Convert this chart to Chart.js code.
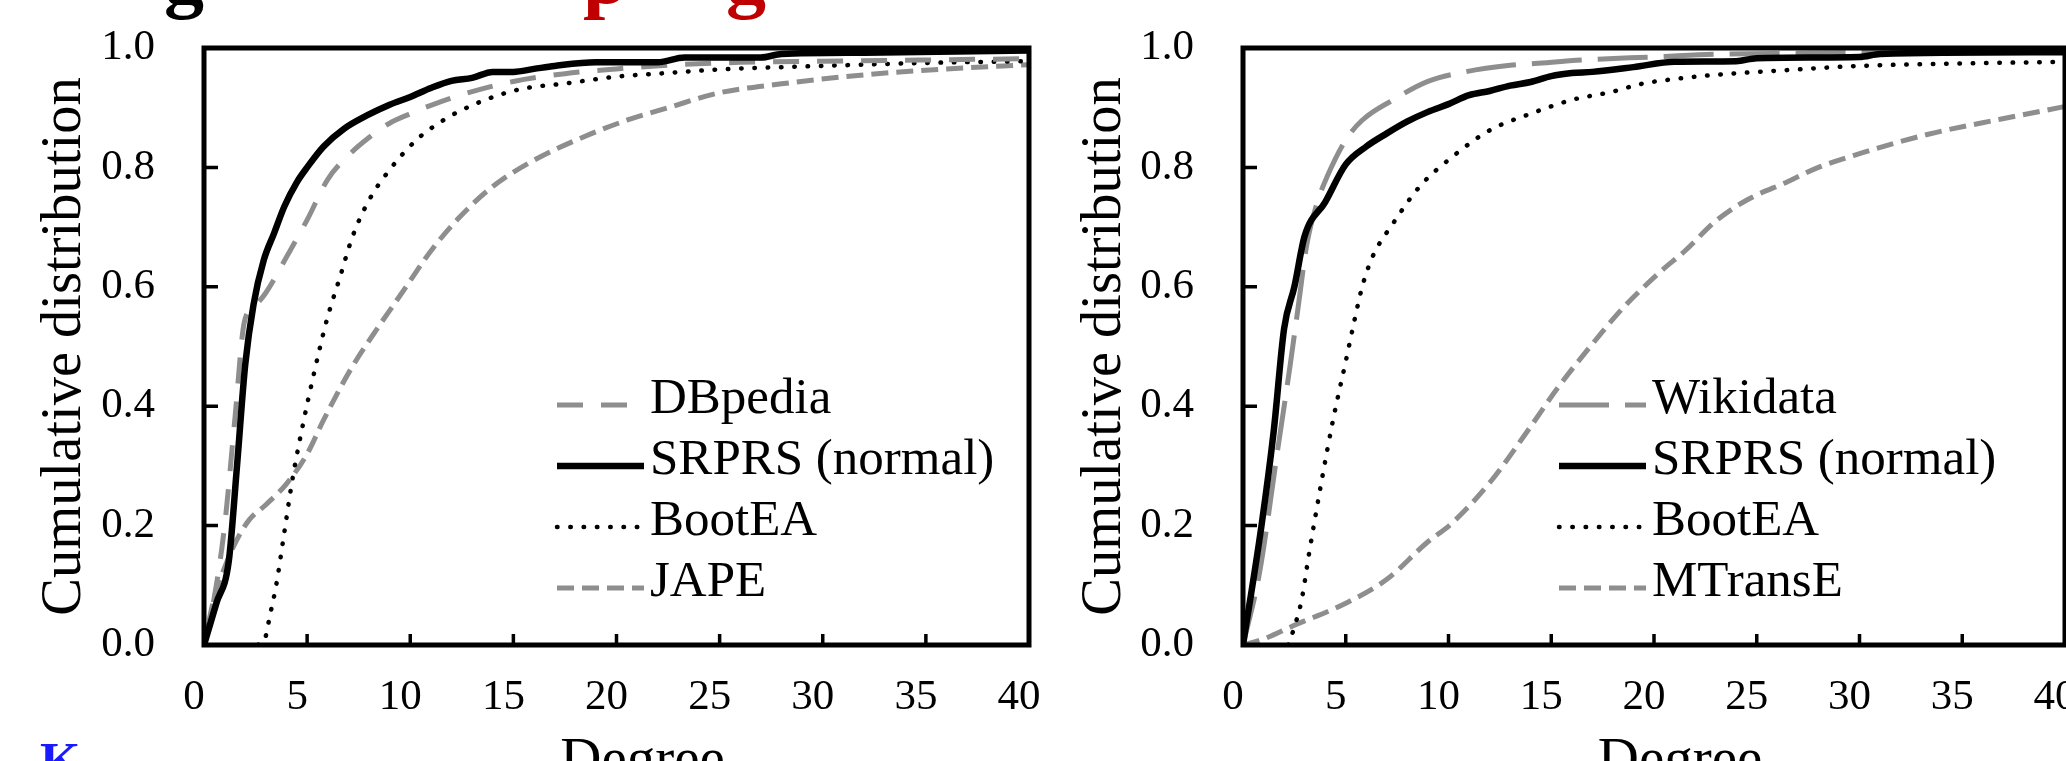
<!DOCTYPE html>
<html>
<head>
<meta charset="utf-8">
<title>Degree distribution</title>
<script src="https://cdn.jsdelivr.net/npm/chart.js@4.4.1/dist/chart.umd.min.js"></script>
<style>
  html, body { margin: 0; padding: 0; background: #fff; overflow: hidden; }
  #page { position: relative; width: 2066px; height: 761px; overflow: hidden; background: #fff; }
  .panel { position: absolute; top: 0; width: 1040px; height: 761px; }
  .frag { position: absolute; font-family: 'Liberation Serif', 'Times New Roman', serif; font-weight: bold; line-height: 1; white-space: nowrap; }
</style>
</head>
<body>
<div id="page">
  <div class="frag" style="left:164px; top:-64px; font-size:80px; color:#000">g</div>
  <div class="frag" style="left:583px; top:-64px; font-size:80px; color:#c00000">p</div>
  <div class="frag" style="left:726px; top:-64px; font-size:80px; color:#c00000">g</div>
  <div class="frag" style="left:40px; top:736px; font-size:52px; color:#1a1aff">K</div>
  <div class="panel" style="left:0"><canvas id="dbpChart" width="1040" height="761"></canvas></div>
  <div class="panel" style="left:1040px"><canvas id="wikiChart" width="1040" height="761"></canvas></div>
</div>
<script>
// x axis ticks (degree) and y axis ticks (cumulative distribution)
const xTicks = [0, 5, 10, 15, 20, 25, 30, 35, 40];
const yTicks = [0, 0.2, 0.4, 0.6, 0.8, 1.0];

// left panel: DBpedia
const dbpediaX = [0, 0.5, 1, 1.5, 1.95, 2.4, 3, 4, 5, 6, 7, 8, 9, 10, 11, 13, 15, 17.5, 20, 23, 26, 30, 35, 40];
const dbpediaY = [0, 0.08, 0.2, 0.38, 0.54, 0.565, 0.59, 0.65, 0.712, 0.78, 0.82, 0.85, 0.874, 0.89, 0.904, 0.927, 0.944, 0.957, 0.965, 0.972, 0.976, 0.978, 0.98, 0.982];
const srprsDbpX = [0, 0.6, 1.2, 1.6, 2, 2.4, 2.9, 3.4, 3.9, 4.5, 5, 5.8, 6.8, 7.9, 9, 10, 11, 12, 13, 14, 15, 16, 17, 19, 22, 23.3, 27, 28, 32, 40];
const srprsDbpY = [0, 0.07, 0.14, 0.3, 0.47, 0.57, 0.645, 0.69, 0.735, 0.775, 0.8, 0.835, 0.865, 0.887, 0.905, 0.918, 0.933, 0.945, 0.95, 0.96, 0.96, 0.965, 0.97, 0.976, 0.976, 0.984, 0.984, 0.99, 0.992, 0.996];
const bootDbpX = [2.6, 2.95, 3.2, 3.5, 3.9, 4.3, 4.8, 5.3, 5.95, 6.6, 7.2, 8, 9, 10.3, 11.6, 13.2, 15.2, 17.6, 20, 22, 25, 30, 35, 40];
const bootDbpY = [0, 0.01, 0.05, 0.1, 0.19, 0.28, 0.37, 0.45, 0.544, 0.617, 0.684, 0.745, 0.796, 0.846, 0.879, 0.907, 0.93, 0.941, 0.952, 0.957, 0.964, 0.97, 0.975, 0.978];
const japeX = [0, 0.5, 1, 1.5, 2.2, 3, 4, 5, 5.8, 7.1, 8.4, 9.6, 11, 12.4, 14, 16, 18.4, 20.5, 22.5, 25, 28, 32, 36, 40];
const japeY = [0, 0.08, 0.13, 0.17, 0.21, 0.235, 0.27, 0.32, 0.377, 0.461, 0.53, 0.59, 0.66, 0.717, 0.768, 0.812, 0.851, 0.879, 0.9, 0.925, 0.94, 0.955, 0.965, 0.972];

// right panel: Wikidata
const wikiX = [0, 0.8, 1.7, 2.3, 2.7, 3.1, 3.6, 4.1, 5, 5.8, 7.3, 9, 10.8, 13, 14.2, 16.5, 20, 23.5, 27, 32, 40];
const wikiY = [0, 0.12, 0.33, 0.47, 0.57, 0.67, 0.74, 0.785, 0.846, 0.879, 0.913, 0.944, 0.96, 0.971, 0.974, 0.98, 0.985, 0.99, 0.991, 0.993, 0.995];
const srprsWikiX = [0, 0.9, 1.5, 2, 2.5, 3, 4, 5, 6, 7, 8, 9, 10, 11, 12, 13, 14, 15, 16, 17, 19, 21, 24, 25, 30, 31, 40];
const srprsWikiY = [0, 0.2, 0.36, 0.53, 0.6, 0.685, 0.742, 0.805, 0.835, 0.857, 0.877, 0.893, 0.906, 0.921, 0.928, 0.937, 0.943, 0.953, 0.958, 0.96, 0.968, 0.977, 0.978, 0.983, 0.985, 0.99, 0.993];
const bootWikiX = [2.2, 2.5, 2.85, 3.2, 3.8, 4.4, 5, 5.4, 5.8, 6.3, 7.3, 8.6, 10.2, 12, 14, 16, 18, 19.4, 21, 23, 26.5, 30, 35, 40];
const bootWikiY = [0, 0.03, 0.075, 0.15, 0.27, 0.38, 0.475, 0.54, 0.6, 0.65, 0.706, 0.768, 0.818, 0.862, 0.89, 0.913, 0.927, 0.94, 0.948, 0.955, 0.963, 0.97, 0.974, 0.977];
const mtranseX = [0, 1, 2.5, 5, 7, 8.9, 10.2, 12.1, 14, 15.3, 16.9, 18.5, 20.3, 21.5, 23, 24.5, 26.5, 28, 30, 33.4, 36.9, 40];
const mtranseY = [0, 0.01, 0.033, 0.07, 0.11, 0.17, 0.205, 0.276, 0.366, 0.43, 0.5, 0.565, 0.625, 0.66, 0.71, 0.745, 0.776, 0.8, 0.823, 0.856, 0.881, 0.902];

const serif = "'Liberation Serif', 'Times New Roman', serif";
const grey = '#8e8e8e';

Chart.defaults.font.family = serif;
Chart.defaults.color = '#000';

const pairs = (xs, ys) => xs.map((x, i) => ({ x, y: ys[i] }));

const styles = {
    kgDash: { borderColor: grey, borderWidth: 5, borderDash: [26, 18] },
    kgLongDash: { borderColor: grey, borderWidth: 5, borderDash: [50, 16] },
    srprs: { borderColor: '#000', borderWidth: 6.5, borderDash: [] },
    boot: { borderColor: '#000', borderWidth: 4.5, borderDash: [0.5, 12.8], borderCapStyle: 'round' },
    shortDash: { borderColor: grey, borderWidth: 5, borderDash: [17, 8] }
};

const line = (label, xs, ys, style, order) => Object.assign({
    label,
    data: pairs(xs, ys),
    pointRadius: 0,
    fill: false,
    cubicInterpolationMode: 'monotone',
    order
}, style);

// box round the plot, with ticks pointing inward
const frame = {
    id: 'frame',
    afterDatasetsDraw(chart) {
        const { ctx, chartArea: a, scales: { x, y } } = chart;
        ctx.save();
        ctx.strokeStyle = '#000';
        ctx.lineWidth = 3.5;
        ctx.beginPath();
        x.ticks.forEach(t => {
            const px = x.getPixelForValue(t.value);
            ctx.moveTo(px, a.bottom);
            ctx.lineTo(px, a.bottom - 11);
        });
        y.ticks.forEach(t => {
            const py = y.getPixelForValue(t.value);
            ctx.moveTo(a.left, py);
            ctx.lineTo(a.left + 14, py);
        });
        ctx.stroke();
        ctx.lineWidth = 5;
        ctx.strokeRect(a.left, a.top, a.right - a.left, a.bottom - a.top);
        ctx.restore();
    }
};

// legend drawn inside the plot, line sample then label
const lineLegend = {
    id: 'lineLegend',
    afterDraw(chart, args, opts) {
        const { ctx, chartArea: a } = chart;
        ctx.save();
        ctx.font = '51px ' + serif;
        ctx.textBaseline = 'middle';
        ctx.textAlign = 'left';
        chart.data.datasets.forEach((ds, i) => {
            const y0 = a.top + opts.top + i * opts.rowGap;
            const x0 = a.left + opts.left;
            ctx.strokeStyle = ds.borderColor;
            ctx.lineWidth = ds.borderWidth;
            ctx.lineCap = ds.borderCapStyle || 'butt';
            ctx.setLineDash(ds.borderDash);
            ctx.beginPath();
            ctx.moveTo(x0, y0);
            ctx.lineTo(x0 + opts.sample, y0);
            ctx.stroke();
            ctx.setLineDash([]);
            ctx.fillStyle = '#000';
            ctx.fillText(ds.label, x0 + opts.textLeft, y0 - 5);
        });
        ctx.restore();
    }
};

// x axis title, sits a little right of centre and runs off the bottom
const xTitle = {
    id: 'xTitle',
    afterDraw(chart, args, opts) {
        const { ctx, chartArea: a } = chart;
        ctx.save();
        ctx.font = '57px ' + serif;
        ctx.fillStyle = '#000';
        ctx.textAlign = 'center';
        ctx.textBaseline = 'middle';
        ctx.fillText(opts.text, (a.left + a.right) / 2 + 26, 762);
        ctx.restore();
    }
};

function makeChart(id, datasets, yWidth, rightPad, legendLeft) {
    return new Chart(document.getElementById(id), {
        type: 'line',
        data: { datasets },
        plugins: [frame, lineLegend, xTitle],
        options: {
            responsive: false,
            animation: false,
            layout: { padding: { top: 48, right: rightPad, bottom: 0, left: 0 } },
            scales: {
                x: {
                    type: 'linear',
                    min: xTicks[0],
                    max: xTicks[xTicks.length - 1],
                    afterBuildTicks: s => { s.ticks = xTicks.map(v => ({ value: v })); },
                    afterFit: s => {
                        s.height = 116;
                        s.paddingLeft = 0; s.paddingRight = 0; s.paddingTop = 0; s.paddingBottom = 0;
                    },
                    grid: { display: false, drawTicks: false },
                    border: { display: false },
                    ticks: {
                        font: { size: 43, lineHeight: 1 },
                        padding: 31,
                        labelOffset: -10,
                        maxRotation: 0,
                        callback: v => String(v)
                    }
                },
                y: {
                    type: 'linear',
                    min: yTicks[0],
                    max: yTicks[yTicks.length - 1],
                    afterBuildTicks: s => { s.ticks = yTicks.map(v => ({ value: v })); },
                    afterFit: s => {
                        s.width = yWidth;
                        s.paddingLeft = 0; s.paddingRight = 0; s.paddingTop = 0; s.paddingBottom = 0;
                    },
                    grid: { display: false, drawTicks: false },
                    border: { display: false },
                    ticks: {
                        font: { size: 43, lineHeight: 1 },
                        padding: 49,
                        callback: v => v.toFixed(1)
                    },
                    title: {
                        display: true,
                        text: 'Cumulative distribution',
                        font: { size: 56.5, lineHeight: 1 },
                        padding: { top: 37, bottom: 0 }
                    }
                }
            },
            plugins: {
                legend: { display: false },
                tooltip: { enabled: false },
                lineLegend: { left: legendLeft, top: 357, rowGap: 61, sample: 87, textLeft: 93 },
                xTitle: { text: 'Degree' }
            }
        }
    });
}

makeChart('dbpChart', [
    line('DBpedia', dbpediaX, dbpediaY, styles.kgDash, 1),
    line('SRPRS (normal)', srprsDbpX, srprsDbpY, styles.srprs, 0),
    line('BootEA', bootDbpX, bootDbpY, styles.boot, 2),
    line('JAPE', japeX, japeY, styles.shortDash, 3)
], 204, 11, 353);

makeChart('wikiChart', [
    line('Wikidata', wikiX, wikiY, styles.kgLongDash, 1),
    line('SRPRS (normal)', srprsWikiX, srprsWikiY, styles.srprs, 0),
    line('BootEA', bootWikiX, bootWikiY, styles.boot, 2),
    line('MTransE', mtranseX, mtranseY, styles.shortDash, 3)
], 203, 15, 316);
</script>
</body>
</html>
